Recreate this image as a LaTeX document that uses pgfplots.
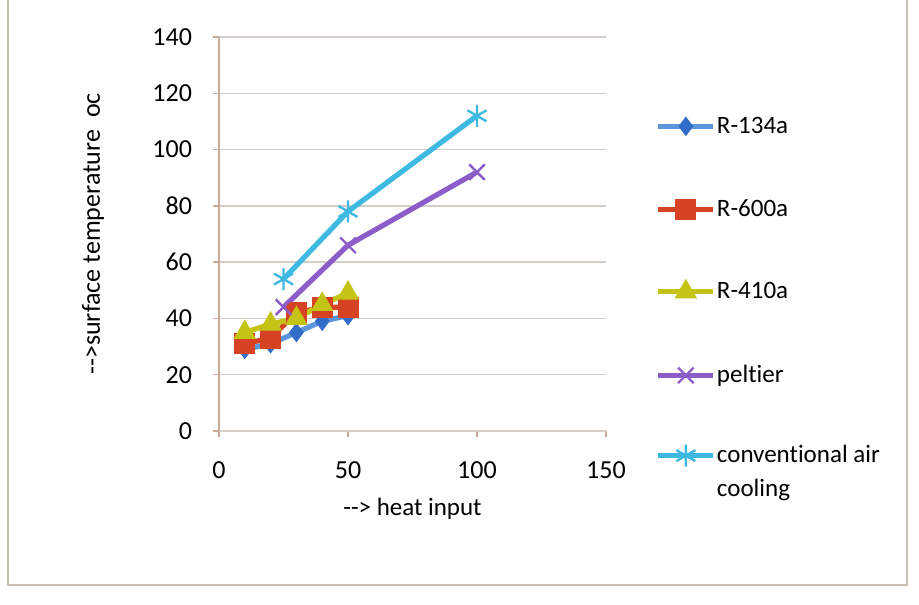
\documentclass[border=0pt]{standalone}
\usepackage{pgfplots}
\pgfplotsset{compat=1.18}
\usepackage{fontspec}
\setmainfont{Carlito}[Ligatures={TeX,NoCommon}]

\definecolor{cR134}{RGB}{92,150,220}
\definecolor{cR134m}{RGB}{48,108,200}
\definecolor{cR600}{RGB}{214,66,36}
\definecolor{cR410}{RGB}{196,196,22}
\definecolor{cPelt}{RGB}{140,92,200}
\definecolor{cConv}{RGB}{62,186,226}
\definecolor{gridc}{RGB}{212,206,200}
\definecolor{axisc}{RGB}{200,170,155}
\definecolor{framec}{RGB}{200,190,180}

\begin{document}
\begin{tikzpicture}[x=1pt,y=1pt]
% page area and the chart-area border
\useasboundingbox (0,0) rectangle (459.5,302);
\draw[framec, line width=0.8pt] (4,302) -- (4,9.5) -- (453.5,9.5) -- (453.5,302);

\begin{axis}[
  at={(109.5pt,86.5pt)}, anchor=south west,
  scale only axis, width=193.5pt, height=197pt,
  xmin=0, xmax=150, ymin=0, ymax=140,
  xtick={0,50,100,150}, ytick={0,20,...,140},
  axis x line*=bottom, axis y line*=left,
  axis line style={axisc, line width=0.7pt, -},
  x axis line style={gridc},
  ymajorgrids, grid style={gridc, line width=0.7pt},
  tick align=outside, major tick length=3pt,
  tick style={axisc, line width=0.7pt},
  /pgf/number format/assume math mode=true,
  ticklabel style={font=\fontsize{13}{15}\selectfont, black},
  xticklabel style={yshift=-9pt},
  yticklabel style={xshift=-7pt},
  xlabel={-{}-> heat input}, ylabel={-{}->surface temperature~ oc},
  every axis x label/.style={at={(rel axis cs:0.5,0)}, yshift=-39pt, anchor=center, font=\fontsize{12.5}{15}\selectfont},
  every axis y label/.style={at={(rel axis cs:0,0.5)}, xshift=-63pt, rotate=90, anchor=center, font=\fontsize{13}{15}\selectfont},
  legend style={at={(rel axis cs:1.112,0.818)}, anchor=north west, draw=none, fill=none,
    font=\fontsize{12.5}{16}\selectfont, row sep=27.6pt, column sep=-1.5pt,
    cells={anchor=base west}},
  legend image code/.code={\draw[mark repeat=2,mark phase=2,#1] plot coordinates {(0pt,3.5pt) (13.75pt,3.5pt) (27.5pt,3.5pt)};},
  every axis plot/.append style={line width=2.6pt},
  clip=false,
]
% refrigerant cooling
\addplot[cR134, mark=diamond*, mark size=4.5pt, mark options={fill=cR134m, draw=cR134m, line width=0.5pt}]
  coordinates {(10,29) (20,31) (30,35) (40,39) (50,41)};
\addlegendentry{R-134a}
\addplot[cR600, mark=square*, mark size=5pt, mark options={line width=0.5pt}]
  coordinates {(10,31) (20,33) (30,42) (40,44) (50,44)};
\addlegendentry{R-600a}
\addplot[cR410, mark=triangle*, mark size=6pt, mark options={line width=0.5pt}]
  coordinates {(10,35) (20,38) (30,40) (40,45) (50,49)};
\addlegendentry{R-410a}
% thermoelectric and plain air
\addplot[cPelt, mark=x, mark size=5.5pt, mark options={line width=1.2pt}]
  coordinates {(25,44) (50,66) (100,92)};
\addlegendentry{peltier}
\addplot[cConv, mark=asterisk, mark size=5.5pt, mark options={line width=1.2pt}]
  coordinates {(25,54) (50,78) (100,112)};
\addlegendentry{\raisebox{0pt}[7pt]{\begin{tabular}[t]{@{}l@{}}conventional air\\[1pt] cooling\end{tabular}}}
\end{axis}
\end{tikzpicture}
\end{document}
